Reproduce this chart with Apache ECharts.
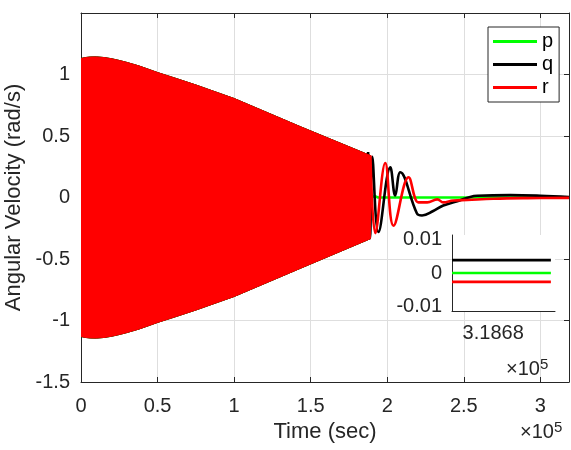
<!DOCTYPE html>
<html>
<head>
<meta charset="utf-8">
<script src="https://cdn.jsdelivr.net/npm/echarts@6/dist/echarts.min.js"></script>
<style>
  html, body { margin: 0; padding: 0; background: #fff; }
  #chart { width: 571px; height: 450px; }
</style>
</head>
<body>
<div id="chart"></div>
<script>
// Angular velocity history (time in seconds)

// Envelope of the fast nutation band (upper / lower bound)
const bandTime  = [0, 3000, 6000, 10000, 15000, 20000, 25000, 30000, 38000, 50000, 62000, 75000, 87000, 100000, 143000, 189000];
const bandUpper = [1.13, 1.138, 1.142, 1.143, 1.138, 1.128, 1.114, 1.098, 1.069, 1.016, 0.968, 0.915, 0.862, 0.805, 0.577, 0.341];
const bandLower = [-1.13, -1.138, -1.142, -1.143, -1.138, -1.128, -1.114, -1.098, -1.069, -1.016, -0.968, -0.915, -0.862, -0.805, -0.577, -0.335];

// Settling phase after the band
const pTime = [188000, 192000, 194000, 250000, 318694];
const pVal  = [0.0, 0.01, 0.0, 0.0, 0.0];

const qTime = [187500, 188800, 190200, 194300, 202000, 205200, 208500, 219400, 222700, 230000, 236600, 247700, 254200, 258800, 280400, 300000, 318694];
const qVal  = [0.37, -0.33, 0.33, -0.28, 0.245, 0.016, 0.205, -0.13, -0.146, -0.11, -0.065, -0.022, 0.005, 0.014, 0.019, 0.014, 0.004];

const rTime = [189000, 192200, 198700, 204100, 213900, 218300, 220300, 226100, 232700, 236600, 243100, 252300, 269300, 291500, 318694];
const rVal  = [0.341, -0.29, 0.28, -0.23, 0.165, -0.01, -0.04, -0.04, -0.015, -0.04, -0.025, -0.02, -0.01, -0.005, -0.003];

// Zoomed view of the final values
const insetTime = [318670, 318694];
const insetP = [0.0, 0.0];
const insetQ = [0.0039, 0.0039];
const insetR = [-0.0027, -0.0027];

const GREEN = '#00ff00', BLACK = '#000000', RED = '#ff0000';
const AXIS = '#262626', GRID = '#dedede';
const FONT = '"Liberation Sans", Arial, sans-serif';

const chart = echarts.init(document.getElementById('chart'), null, { renderer: 'canvas' });

function bandSeries(name, color, xi, yi, z) {
  return {
    type: 'custom', name: name, xAxisIndex: xi, yAxisIndex: yi, z: z, silent: true,
    clip: true,
    data: bandTime.map((t, i) => [t, bandLower[i], bandUpper[i]]),
    encode: { x: 0, y: [1, 2] },
    renderItem: function (params, api) {
      if (params.dataIndex !== 0) return null;
      const pts = [];
      for (let i = 0; i < bandTime.length; i++) pts.push(api.coord([bandTime[i], bandUpper[i]]));
      for (let i = bandTime.length - 1; i >= 0; i--) pts.push(api.coord([bandTime[i], bandLower[i]]));
      return { type: 'polygon', shape: { points: pts }, style: { fill: color, stroke: color, lineWidth: 1 } };
    }
  };
}

function lineSeries(name, color, times, vals, xi, yi, z, smooth) {
  return {
    type: 'line', name: name, xAxisIndex: xi, yAxisIndex: yi, z: z,
    data: times.map((t, i) => [t, vals[i]]),
    showSymbol: false, symbol: 'none', smooth: smooth, silent: true,
    lineStyle: { color: color, width: 2.6 }, itemStyle: { color: color },
    animation: false
  };
}

const tickFont = { fontFamily: FONT, fontSize: 20, color: AXIS };

const option = {
  animation: false,
  backgroundColor: '#ffffff',
  grid: [
    { left: 81, right: 2, top: 13, bottom: 68, containLabel: false, outerBoundsMode: 'none' },
    { left: 452, top: 235, width: 103, height: 76, show: true, backgroundColor: '#ffffff', borderWidth: 0, z: 5, containLabel: false, outerBoundsMode: 'none' }
  ],
  legend: {
    data: [
      { name: 'p', icon: 'rect', itemStyle: { color: GREEN } },
      { name: 'q', icon: 'rect', itemStyle: { color: BLACK } },
      { name: 'r', icon: 'rect', itemStyle: { color: RED } }
    ],
    orient: 'vertical', left: 488, top: 27,
    itemWidth: 44, itemHeight: 3, itemGap: 2,
    padding: [4, 6, 4, 5],
    backgroundColor: '#ffffff', borderColor: AXIS, borderWidth: 1,
    textStyle: { fontFamily: FONT, fontSize: 20, color: '#000', lineHeight: 21, padding: [0, 0, 0, 0] },
    selectedMode: false, z: 10
  },
  xAxis: [
    {
      type: 'value', gridIndex: 0, min: 0, max: 318694, interval: 50000,
      axisLine: { onZero: false, lineStyle: { color: AXIS, width: 1 } },
      axisTick: { inside: true, length: 5, lineStyle: { color: AXIS } },
      axisLabel: Object.assign({ margin: 14, formatter: v => String(v / 1e5), showMaxLabel: false }, tickFont),
      splitLine: { show: true, lineStyle: { color: GRID, width: 1 } },
      name: 'Time (sec)', nameLocation: 'middle', nameGap: 26,
      nameTextStyle: { fontFamily: FONT, fontSize: 22, color: AXIS }
    },
    {
      type: 'value', gridIndex: 0, position: 'top', min: 0, max: 318694, interval: 50000,
      axisLine: { onZero: false, lineStyle: { color: AXIS, width: 1 } },
      axisTick: { inside: true, length: 5, lineStyle: { color: AXIS } },
      axisLabel: { show: false }, splitLine: { show: false }
    },
    {
      type: 'value', gridIndex: 1, min: 318670, max: 318695,
      axisLine: { onZero: false, lineStyle: { color: AXIS, width: 1 } },
      axisTick: { show: false },
      axisLabel: Object.assign({ margin: 12, customValues: [318680], formatter: v => (v / 1e5).toFixed(4) }, tickFont),
      splitLine: { show: false }, z: 6
    }
  ],
  yAxis: [
    {
      type: 'value', gridIndex: 0, min: -1.5, max: 1.5, interval: 0.5,
      axisLine: { onZero: false, lineStyle: { color: AXIS, width: 1 } },
      axisTick: { inside: true, length: 5, lineStyle: { color: AXIS } },
      axisLabel: Object.assign({ margin: 11, formatter: v => String(v), showMaxLabel: false }, tickFont),
      splitLine: { show: true, lineStyle: { color: GRID, width: 1 } },
      name: 'Angular Velocity (rad/s)', nameLocation: 'middle', nameGap: 44, nameRotate: 90,
      nameTextStyle: { fontFamily: FONT, fontSize: 22, color: AXIS }
    },
    {
      type: 'value', gridIndex: 0, position: 'right', min: -1.5, max: 1.5, interval: 0.5,
      axisLine: { onZero: false, lineStyle: { color: AXIS, width: 1 } },
      axisTick: { inside: true, length: 5, lineStyle: { color: AXIS } },
      axisLabel: { show: false }, splitLine: { show: false }
    },
    {
      type: 'value', gridIndex: 1, min: -0.0115, max: 0.0115,
      axisLine: { onZero: false, lineStyle: { color: AXIS, width: 1 } },
      axisTick: { show: false },
      axisLabel: Object.assign({ margin: 10, customValues: [-0.01, 0, 0.01], formatter: v => String(v) }, tickFont),
      splitLine: { show: false }, z: 6
    }
  ],
  graphic: [
    {
      type: 'text', left: 520, top: 420, z: 20,
      style: {
        text: '×10{s|5}', fill: AXIS, font: '20px ' + FONT,
        rich: { s: { fontSize: 15, verticalAlign: 'top', padding: [0, 0, 10, 0] } }
      }
    },
    {
      type: 'text', left: 506, top: 357, z: 20,
      style: {
        text: '×10{s|5}', fill: AXIS, font: '20px ' + FONT,
        rich: { s: { fontSize: 15, verticalAlign: 'top', padding: [0, 0, 10, 0] } }
      }
    }
  ],
  series: [
    bandSeries('p-band', GREEN, 0, 0, 2),
    bandSeries('q-band', BLACK, 0, 0, 2),
    lineSeries('p', GREEN, pTime, pVal, 0, 0, 3, false),
    lineSeries('q', BLACK, qTime, qVal, 0, 0, 3, 0.4),
    bandSeries('r-band', RED, 0, 0, 4),
    lineSeries('r', RED, rTime, rVal, 0, 0, 4, 0.4),
    lineSeries('p-end', GREEN, insetTime, insetP, 2, 2, 8, false),
    lineSeries('q-end', BLACK, insetTime, insetQ, 2, 2, 8, false),
    lineSeries('r-end', RED, insetTime, insetR, 2, 2, 8, false)
  ]
};

chart.setOption(option);
</script>
</body>
</html>
